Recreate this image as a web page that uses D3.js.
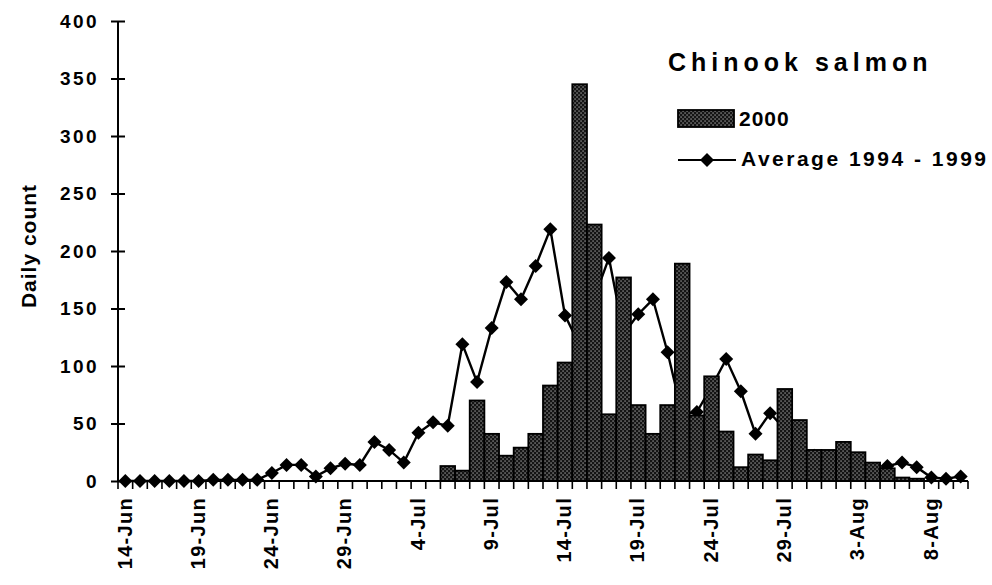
<!DOCTYPE html>
<html>
<head>
<meta charset="utf-8">
<script src="https://cdn.jsdelivr.net/npm/d3@7/dist/d3.min.js"></script>
<style>
  html, body { margin: 0; padding: 0; background: #fff; }
  svg { display: block; }
  text { font-family: "Liberation Sans", Arial, Helvetica, sans-serif; fill: #000; }
</style>
</head>
<body>
<svg id="chart" width="992" height="585"></svg>
<script>
// ---- data ----
const dates = [
  "14-Jun","15-Jun","16-Jun","17-Jun","18-Jun","19-Jun","20-Jun","21-Jun","22-Jun","23-Jun",
  "24-Jun","25-Jun","26-Jun","27-Jun","28-Jun","29-Jun","30-Jun",
  "1-Jul","2-Jul","3-Jul","4-Jul","5-Jul","6-Jul","7-Jul","8-Jul","9-Jul","10-Jul",
  "11-Jul","12-Jul","13-Jul","14-Jul","15-Jul","16-Jul","17-Jul","18-Jul","19-Jul","20-Jul",
  "21-Jul","22-Jul","23-Jul","24-Jul","25-Jul","26-Jul","27-Jul","28-Jul","29-Jul","30-Jul","31-Jul",
  "1-Aug","2-Aug","3-Aug","4-Aug","5-Aug","6-Aug","7-Aug","8-Aug","9-Aug","10-Aug"
];
const count2000 = [
  0,0,0,0,0,0,0,0,0,0,
  0,0,0,0,0,0,0,
  0,0,0,0,0,13,9,70,41,22,
  29,41,83,103,345,223,58,177,66,41,
  66,189,57,91,43,12,23,18,80,53,27,
  27,34,25,16,11,3,2,0,0,0
];
const average9499 = [
  0,0,0,0,0,0,1,1,1,1,
  7,14,14,4,11,15,14,
  34,27,16,42,51,48,119,86,133,173,
  158,187,219,144,118,159,194,128,145,158,
  112,58,60,82,106,78,41,59,45,32,22,
  20,14,12,8,13,16,12,3,2,4
];
const xTickLabels = ["14-Jun","19-Jun","24-Jun","29-Jun","4-Jul","9-Jul","14-Jul","19-Jul","24-Jul","29-Jul","3-Aug","8-Aug"];
const yTicks = [0,50,100,150,200,250,300,350,400];
const seriesNames = ["2000", "Average 1994 - 1999"];
const chartTitle = "Chinook salmon";
const yTitle = "Daily count";

// ---- layout ----
const svg = d3.select("#chart");
const mLeft = 118, mRight = 968, mTop = 21, mBottom = 481;

const x = d3.scaleBand().domain(dates).range([mLeft, mRight]).padding(0);
const y = d3.scaleLinear().domain([0, 400]).range([mBottom, mTop]);

// pattern for bars
const defs = svg.append("defs");
const pat = defs.append("pattern")
  .attr("id", "stipple").attr("patternUnits", "userSpaceOnUse")
  .attr("width", 4).attr("height", 4);
pat.append("rect").attr("width", 4).attr("height", 4).attr("fill", "#141414");
pat.append("rect").attr("x", 0.5).attr("y", 0.5).attr("width", 1.1).attr("height", 1.1).attr("fill", "#d0d0d0");
pat.append("rect").attr("x", 2.5).attr("y", 2.5).attr("width", 1.1).attr("height", 1.1).attr("fill", "#d0d0d0");

// average line (drawn beneath bars)
const line = d3.line()
  .x((d, i) => x(dates[i]) + x.bandwidth() / 2)
  .y(d => y(d));
svg.append("path").datum(average9499)
  .attr("d", line).attr("fill", "none").attr("stroke", "#000").attr("stroke-width", 2.4);

const diamond = s => `M0,${-s}L${s},0L0,${s}L${-s},0Z`;
svg.append("g").selectAll("path").data(average9499).join("path")
  .attr("transform", (d, i) => `translate(${x(dates[i]) + x.bandwidth() / 2},${y(d)})`)
  .attr("d", diamond(7)).attr("fill", "#000");

// bars
svg.append("g").selectAll("rect")
  .data(dates.map((d, i) => ({ d, v: count2000[i] })).filter(o => o.v > 0))
  .join("rect")
  .attr("x", o => x(o.d))
  .attr("y", o => y(o.v))
  .attr("width", x.bandwidth())
  .attr("height", o => y(0) - y(o.v))
  .attr("fill", "url(#stipple)")
  .attr("stroke", "#000").attr("stroke-width", 1.8);

// y axis
const yAxis = d3.axisLeft(y).tickValues(yTicks).tickSize(7).tickPadding(14);
const gy = svg.append("g").attr("transform", `translate(${mLeft},0)`).call(yAxis);
gy.select(".domain").attr("stroke", "#000").attr("stroke-width", 2).attr("d", `M0,${mBottom}V${mTop}`);
gy.selectAll(".tick line").attr("stroke", "#000").attr("stroke-width", 2).attr("x1", -7).attr("x2", 7);
gy.selectAll(".tick text")
  .attr("font-size", 19).attr("font-weight", "bold").attr("letter-spacing", 2.4).attr("fill", "#000")
  .attr("x", -19);

// x axis
const xAxis = d3.axisBottom(x).tickValues(xTickLabels).tickSize(0).tickPadding(0);
const gx = svg.append("g").attr("transform", `translate(0,${mBottom})`).call(xAxis);
gx.select(".domain").attr("stroke", "#000").attr("stroke-width", 2).attr("d", `M${mLeft},0H${mRight}`);
gx.selectAll(".tick text")
  .attr("font-size", 20).attr("font-weight", "bold").attr("letter-spacing", 1.3)
  .attr("text-anchor", "end")
  .attr("transform", "translate(-1,16) rotate(-90)")
  .attr("x", 0).attr("y", 0).attr("dy", "0.36em");

// boundary ticks
const bounds = dates.map(d => x(d)).concat([x.range()[1]]);
gx.append("g").selectAll("line").data(bounds).join("line")
  .attr("x1", d => d).attr("x2", d => d).attr("y1", 0).attr("y2", 8)
  .attr("stroke", "#000").attr("stroke-width", 1.6);

// y title
svg.append("text")
  .attr("transform", "translate(28,246) rotate(-90)")
  .attr("text-anchor", "middle").attr("dy", "0.36em")
  .attr("font-size", 21).attr("font-weight", "bold").attr("letter-spacing", 1)
  .text(yTitle);

// legend
svg.append("text")
  .attr("x", 668).attr("y", 62).attr("dy", "0.36em")
  .attr("font-size", 25).attr("font-weight", "bold").attr("letter-spacing", 5)
  .text(chartTitle);

svg.append("rect").attr("x", 678).attr("y", 110).attr("width", 56).attr("height", 17)
  .attr("fill", "url(#stipple)").attr("stroke", "#000").attr("stroke-width", 1.8);
svg.append("text").attr("x", 739).attr("y", 118).attr("dy", "0.36em")
  .attr("font-size", 21).attr("font-weight", "bold").attr("letter-spacing", 1).text(seriesNames[0]);

svg.append("line").attr("x1", 678).attr("x2", 736).attr("y1", 160).attr("y2", 160)
  .attr("stroke", "#000").attr("stroke-width", 2.2);
svg.append("path").attr("transform", "translate(707,160)").attr("d", diamond(7)).attr("fill", "#000");
svg.append("text").attr("x", 741).attr("y", 158).attr("dy", "0.36em")
  .attr("font-size", 21).attr("font-weight", "bold").attr("letter-spacing", 2.5).text(seriesNames[1]);
</script>
</body>
</html>
